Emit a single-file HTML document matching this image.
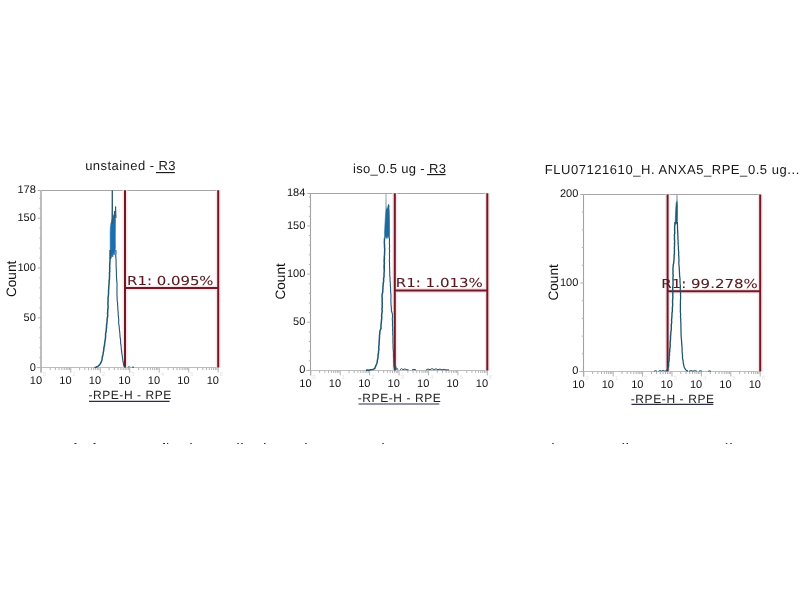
<!DOCTYPE html><html><head><meta charset="utf-8"><title>Flow cytometry</title><style>
html,body{margin:0;padding:0;background:#fff;width:800px;height:600px;overflow:hidden}
svg{display:block}
text{text-rendering:geometricPrecision}
.tl{font-family:"Liberation Sans",Arial,sans-serif;font-size:11px;fill:#111}
.sup{font-family:"Liberation Sans",Arial,sans-serif;font-size:6px;fill:#e2e2e2}
.cnt{font-family:"Liberation Sans",Arial,sans-serif;font-size:13.6px;fill:#111}
.xt{font-family:"Liberation Sans",Arial,sans-serif;font-size:12px;fill:#222}
.ti{font-family:"Liberation Sans",Arial,sans-serif;font-size:13px;fill:#1a1a1a}
.r1{font-family:"DejaVu Sans",Verdana,sans-serif;font-size:12.4px;fill:#561a20;stroke:#561a20;stroke-width:0.08px}
</style></head><body><svg width="800" height="600" viewBox="0 0 800 600">
<path d="M37.8 190.5H218.2" stroke="#a6a6a6" stroke-width="1" fill="none"/>
<path d="M36.8 367.5H218.2" stroke="#bdbdbd" stroke-width="1.1" fill="none"/>
<path d="M41 190.3V372.6" stroke="#bdbdbd" stroke-width="2.0" fill="none"/>
<path d="M37.8 367.6H41.3M39.3 357.64H41.3M39.3 347.68H41.3M39.3 337.72H41.3M39.3 327.76H41.3M37.8 317.8H41.3M39.3 307.84H41.3M39.3 297.88H41.3M39.3 287.91H41.3M39.3 277.95H41.3M37.8 267.99H41.3M39.3 258.03H41.3M39.3 248.07H41.3M39.3 238.11H41.3M39.3 228.15H41.3M37.8 218.19H41.3M39.3 208.23H41.3M39.3 198.27H41.3" stroke="#b2b2b2" stroke-width="1" fill="none"/>
<path d="M41.3 367.6v5M50.18 367.6v2.5M55.37 367.6v2.5M59.05 367.6v2.5M61.91 367.6v2.5M64.24 367.6v2.5M66.22 367.6v2.5M67.93 367.6v2.5M69.43 367.6v2.5M70.78 367.6v5M79.66 367.6v2.5M84.85 367.6v2.5M88.53 367.6v2.5M91.39 367.6v2.5M93.73 367.6v2.5M95.7 367.6v2.5M97.41 367.6v2.5M98.92 367.6v2.5M100.27 367.6v5M109.14 367.6v2.5M114.33 367.6v2.5M118.02 367.6v2.5M120.87 367.6v2.5M123.21 367.6v2.5M125.18 367.6v2.5M126.89 367.6v2.5M128.4 367.6v2.5M129.75 367.6v5M138.63 367.6v2.5M143.82 367.6v2.5M147.5 367.6v2.5M150.36 367.6v2.5M152.69 367.6v2.5M154.67 367.6v2.5M156.38 367.6v2.5M157.88 367.6v2.5M159.23 367.6v5M168.11 367.6v2.5M173.3 367.6v2.5M176.98 367.6v2.5M179.84 367.6v2.5M182.18 367.6v2.5M184.15 367.6v2.5M185.86 367.6v2.5M187.37 367.6v2.5M188.72 367.6v5M197.59 367.6v2.5M202.78 367.6v2.5M206.47 367.6v2.5M209.32 367.6v2.5M211.66 367.6v2.5M213.63 367.6v2.5M215.34 367.6v2.5M216.85 367.6v2.5M218.2 367.6v5" stroke="#b2b2b2" stroke-width="1" fill="none"/>
<text x="35.8" y="193.2" class="tl" text-anchor="end">178</text>
<text x="35.8" y="370.5" class="tl" text-anchor="end">0</text>
<text x="35.8" y="320.7" class="tl" text-anchor="end">50</text>
<text x="35.8" y="270.89" class="tl" text-anchor="end">100</text>
<text x="35.8" y="221.09" class="tl" text-anchor="end">150</text>
<text x="42.1" y="383.8" class="tl" text-anchor="end">10</text>
<text x="42.8" y="376.1" class="sup">0</text>
<text x="71.58" y="383.8" class="tl" text-anchor="end">10</text>
<text x="72.28" y="376.1" class="sup">1</text>
<text x="101.07" y="383.8" class="tl" text-anchor="end">10</text>
<text x="101.77" y="376.1" class="sup">2</text>
<text x="130.55" y="383.8" class="tl" text-anchor="end">10</text>
<text x="131.25" y="376.1" class="sup">3</text>
<text x="160.03" y="383.8" class="tl" text-anchor="end">10</text>
<text x="160.73" y="376.1" class="sup">4</text>
<text x="189.52" y="383.8" class="tl" text-anchor="end">10</text>
<text x="190.22" y="376.1" class="sup">5</text>
<text x="219" y="383.8" class="tl" text-anchor="end">10</text>
<text x="219.7" y="376.1" class="sup">6</text>
<text transform="translate(15.5 278.9) rotate(-90)" class="cnt" text-anchor="middle">Count</text>
<text x="88.4" y="399.3" class="xt" textLength="82.87" lengthAdjust="spacing">-RPE-H - RPE</text>
<text x="85.2" y="169.8" class="ti" textLength="90.36" lengthAdjust="spacing">unstained - R3</text>
<path d="M307.3 193.5H487.3" stroke="#a6a6a6" stroke-width="1" fill="none"/>
<path d="M306.3 370.5H487.3" stroke="#bdbdbd" stroke-width="1.1" fill="none"/>
<path d="M310.5 193.2V375.4" stroke="#a2a2a2" stroke-width="1.1" fill="none"/>
<path d="M307.3 370.4H310.8M308.8 360.77H310.8M308.8 351.14H310.8M308.8 341.51H310.8M308.8 331.88H310.8M307.3 322.25H310.8M308.8 312.62H310.8M308.8 302.99H310.8M308.8 293.36H310.8M308.8 283.73H310.8M307.3 274.1H310.8M308.8 264.47H310.8M308.8 254.83H310.8M308.8 245.2H310.8M308.8 235.57H310.8M307.3 225.94H310.8M308.8 216.31H310.8M308.8 206.68H310.8M308.8 197.05H310.8" stroke="#b2b2b2" stroke-width="1" fill="none"/>
<path d="M310.8 370.4v5M319.66 370.4v2.5M324.84 370.4v2.5M328.51 370.4v2.5M331.36 370.4v2.5M333.69 370.4v2.5M335.66 370.4v2.5M337.37 370.4v2.5M338.87 370.4v2.5M340.22 370.4v5M349.07 370.4v2.5M354.25 370.4v2.5M357.93 370.4v2.5M360.78 370.4v2.5M363.11 370.4v2.5M365.08 370.4v2.5M366.78 370.4v2.5M368.29 370.4v2.5M369.63 370.4v5M378.49 370.4v2.5M383.67 370.4v2.5M387.34 370.4v2.5M390.19 370.4v2.5M392.52 370.4v2.5M394.49 370.4v2.5M396.2 370.4v2.5M397.7 370.4v2.5M399.05 370.4v5M407.91 370.4v2.5M413.09 370.4v2.5M416.76 370.4v2.5M419.61 370.4v2.5M421.94 370.4v2.5M423.91 370.4v2.5M425.62 370.4v2.5M427.12 370.4v2.5M428.47 370.4v5M437.32 370.4v2.5M442.5 370.4v2.5M446.18 370.4v2.5M449.03 370.4v2.5M451.36 370.4v2.5M453.33 370.4v2.5M455.03 370.4v2.5M456.54 370.4v2.5M457.88 370.4v5M466.74 370.4v2.5M471.92 370.4v2.5M475.59 370.4v2.5M478.44 370.4v2.5M480.77 370.4v2.5M482.74 370.4v2.5M484.45 370.4v2.5M485.95 370.4v2.5M487.3 370.4v5" stroke="#b2b2b2" stroke-width="1" fill="none"/>
<text x="305.3" y="196.1" class="tl" text-anchor="end">184</text>
<text x="305.3" y="373.3" class="tl" text-anchor="end">0</text>
<text x="305.3" y="325.15" class="tl" text-anchor="end">50</text>
<text x="305.3" y="277" class="tl" text-anchor="end">100</text>
<text x="305.3" y="228.84" class="tl" text-anchor="end">150</text>
<text x="311.6" y="386.6" class="tl" text-anchor="end">10</text>
<text x="312.3" y="378.9" class="sup">0</text>
<text x="341.02" y="386.6" class="tl" text-anchor="end">10</text>
<text x="341.72" y="378.9" class="sup">1</text>
<text x="370.43" y="386.6" class="tl" text-anchor="end">10</text>
<text x="371.13" y="378.9" class="sup">2</text>
<text x="399.85" y="386.6" class="tl" text-anchor="end">10</text>
<text x="400.55" y="378.9" class="sup">3</text>
<text x="429.27" y="386.6" class="tl" text-anchor="end">10</text>
<text x="429.97" y="378.9" class="sup">4</text>
<text x="458.68" y="386.6" class="tl" text-anchor="end">10</text>
<text x="459.38" y="378.9" class="sup">5</text>
<text x="488.1" y="386.6" class="tl" text-anchor="end">10</text>
<text x="488.8" y="378.9" class="sup">6</text>
<text transform="translate(285.2 281.4) rotate(-90)" class="cnt" text-anchor="middle">Count</text>
<text x="357.7" y="402.3" class="xt" textLength="83.17" lengthAdjust="spacing">-RPE-H - RPE</text>
<text x="353.0" y="173.0" class="ti" textLength="92.87" lengthAdjust="spacing">iso_0.5 ug - R3</text>
<path d="M580.3 194.5H760.2" stroke="#a6a6a6" stroke-width="1" fill="none"/>
<path d="M579.3 371.5H760.2" stroke="#bdbdbd" stroke-width="1.1" fill="none"/>
<path d="M583.5 194.4V376.5" stroke="#a2a2a2" stroke-width="1.1" fill="none"/>
<path d="M580.3 371.5H583.8M581.8 353.79H583.8M581.8 336.08H583.8M581.8 318.37H583.8M581.8 300.66H583.8M580.3 282.95H583.8M581.8 265.24H583.8M581.8 247.53H583.8M581.8 229.82H583.8M581.8 212.11H583.8M580.3 194.4H583.8" stroke="#b2b2b2" stroke-width="1" fill="none"/>
<path d="M583.8 371.5v5M592.65 371.5v2.5M597.83 371.5v2.5M601.5 371.5v2.5M604.35 371.5v2.5M606.68 371.5v2.5M608.65 371.5v2.5M610.35 371.5v2.5M611.85 371.5v2.5M613.2 371.5v5M622.05 371.5v2.5M627.23 371.5v2.5M630.9 371.5v2.5M633.75 371.5v2.5M636.08 371.5v2.5M638.05 371.5v2.5M639.75 371.5v2.5M641.25 371.5v2.5M642.6 371.5v5M651.45 371.5v2.5M656.63 371.5v2.5M660.3 371.5v2.5M663.15 371.5v2.5M665.48 371.5v2.5M667.45 371.5v2.5M669.15 371.5v2.5M670.65 371.5v2.5M672 371.5v5M680.85 371.5v2.5M686.03 371.5v2.5M689.7 371.5v2.5M692.55 371.5v2.5M694.88 371.5v2.5M696.85 371.5v2.5M698.55 371.5v2.5M700.05 371.5v2.5M701.4 371.5v5M710.25 371.5v2.5M715.43 371.5v2.5M719.1 371.5v2.5M721.95 371.5v2.5M724.28 371.5v2.5M726.25 371.5v2.5M727.95 371.5v2.5M729.45 371.5v2.5M730.8 371.5v5M739.65 371.5v2.5M744.83 371.5v2.5M748.5 371.5v2.5M751.35 371.5v2.5M753.68 371.5v2.5M755.65 371.5v2.5M757.35 371.5v2.5M758.85 371.5v2.5M760.2 371.5v5" stroke="#b2b2b2" stroke-width="1" fill="none"/>
<text x="578.3" y="197.3" class="tl" text-anchor="end">200</text>
<text x="578.3" y="374.4" class="tl" text-anchor="end">0</text>
<text x="578.3" y="285.85" class="tl" text-anchor="end">100</text>
<text x="584.6" y="387.7" class="tl" text-anchor="end">10</text>
<text x="585.3" y="380" class="sup">0</text>
<text x="614" y="387.7" class="tl" text-anchor="end">10</text>
<text x="614.7" y="380" class="sup">1</text>
<text x="643.4" y="387.7" class="tl" text-anchor="end">10</text>
<text x="644.1" y="380" class="sup">2</text>
<text x="672.8" y="387.7" class="tl" text-anchor="end">10</text>
<text x="673.5" y="380" class="sup">3</text>
<text x="702.2" y="387.7" class="tl" text-anchor="end">10</text>
<text x="702.9" y="380" class="sup">4</text>
<text x="731.6" y="387.7" class="tl" text-anchor="end">10</text>
<text x="732.3" y="380" class="sup">5</text>
<text x="761" y="387.7" class="tl" text-anchor="end">10</text>
<text x="761.7" y="380" class="sup">6</text>
<text transform="translate(558.4 282.4) rotate(-90)" class="cnt" text-anchor="middle">Count</text>
<text x="630.7" y="402.7" class="xt" textLength="83.37" lengthAdjust="spacing">-RPE-H - RPE</text>
<text x="544.7" y="173.8" class="ti" textLength="254.63" lengthAdjust="spacing">FLU07121610_H. ANXA5_RPE_0.5 ug...</text>
<path d="M125 190.3V367.6M218.2 190.3V367.6M125 288H218.2" stroke="#f6e4e7" stroke-width="5" fill="none"/>
<path d="M125 190.3V367.6M218.2 190.3V367.6M125 288H218.2" stroke="#701826" stroke-width="2" fill="none"/>
<text x="127.1" y="284.7" class="r1" textLength="86.44" lengthAdjust="spacingAndGlyphs">R1: 0.095%</text>
<path d="M156 172.6H174.9" stroke="#111" stroke-width="1.1" fill="none"/>
<path d="M89 401.3H169.6" stroke="#2b2e44" stroke-width="1.2" fill="none"/>
<path d="M394.8 193.2V370.4M487.3 193.2V370.4M394.8 290.5H487.3" stroke="#f6e4e7" stroke-width="5" fill="none"/>
<path d="M394.8 193.2V370.4M487.3 193.2V370.4M394.8 290.5H487.3" stroke="#701826" stroke-width="2" fill="none"/>
<text x="395.79" y="287.2" class="r1" textLength="87.05" lengthAdjust="spacingAndGlyphs">R1: 1.013%</text>
<path d="M427 174.6H445.6" stroke="#111" stroke-width="1.1" fill="none"/>
<path d="M358.5 404H439.3" stroke="#2b2e44" stroke-width="1.2" fill="none"/>
<path d="M667.6 194.4V371.5M760.2 194.4V371.5M667.6 291.3H760.2" stroke="#f6e4e7" stroke-width="5" fill="none"/>
<path d="M667.6 194.4V371.5M760.2 194.4V371.5M667.6 291.3H760.2" stroke="#701826" stroke-width="2" fill="none"/>
<text x="661.39" y="288.0" class="r1" textLength="96.31" lengthAdjust="spacingAndGlyphs">R1: 99.278%</text>
<path d="M631.5 404.3H713.3" stroke="#2b2e44" stroke-width="1.2" fill="none"/>
<path d="M110.3 258 L110.2 245 L110.2 232 L110.4 227 L111 223 L111.8 221 L112.3 219 L113.1 216.5 L114 214.5 L114.8 214 L115.3 215 L115.5 220 L115.4 230 L115.3 240 L115.4 248 L114.8 252 L114.2 255 L113.5 253 L112.8 257 L112 255 L111.3 258 L110.7 259Z" fill="#1c6fae" stroke="#1c6fae" stroke-width="0.6"/>
<path d="M94.5 367.5 L96 367.2 L97 366.8 L98.5 365.8 L100 364.2 L101 362.5 L102 360 L102.14 358 L102.6 356 L103.05 354.4 L103.2 352.8 L103.62 350.9 L103.8 349 L103.99 347.3 L104.4 345.6 L104.6 344.07 L104.78 342.53 L105 341 L105.27 339.33 L105.53 337.67 L105.6 336 L105.57 334.5 L105.69 333 L106.2 331.5 L106.2 330 L106.32 328.5 L106.62 327 L106.43 325.5 L106.8 324 L106.9 322.5 L107.15 321 L107.06 319.5 L107.3 318 L107.62 316.5 L107.73 315 L107.47 313.5 L107.8 312 L107.64 310.5 L107.92 309 L108.14 307.5 L108 306 L107.97 304.5 L107.93 303 L108.04 301.5 L108.1 300 L107.99 298.5 L108.18 297 L108.37 295.5 L108.5 294 L108.57 292.5 L108.53 291 L108.61 289.5 L108.8 288 L108.78 286.5 L108.98 285 L109.01 283.5 L109.2 282 L109.06 280.5 L109.5 279 L109.45 277.5 L109.5 276 L109.59 274.5 L109.41 273 L109.79 271.5 L109.6 270 L109.83 268.33 L109.57 266.67 L109.8 265 L109.78 263.25 L110 261.5 L110.04 259.75 L110 258 L110.21 256.4 L110.01 254.8 L110.21 253.2 L110.15 251.6 L110.1 250" stroke="#1f5670" stroke-width="1.5" fill="none" stroke-linejoin="round"/>
<path d="M115.8 250 L115.98 251.6 L116 253.2 L115.7 254.8 L115.73 256.4 L115.9 258 L116.07 259.75 L116.08 261.5 L116.11 263.25 L116.1 265 L116.1 266.67 L116.27 268.33 L116.3 270 L116.39 271.5 L116.43 273 L116.33 274.5 L116.5 276 L116.55 277.5 L116.61 279 L116.81 280.5 L116.8 282 L117.03 283.5 L117.06 285 L116.97 286.5 L117 288 L117.01 289.5 L116.97 291 L116.91 292.5 L117.1 294 L116.95 295.5 L117.14 297 L117.11 298.5 L117.2 300 L117.28 301.5 L117.59 303 L117.58 304.5 L117.7 306 L117.85 307.5 L117.86 309 L117.9 310.5 L118.2 312 L118.21 313.5 L118.22 315 L118.43 316.5 L118.5 318 L118.75 319.5 L118.71 321 L118.61 322.5 L118.8 324 L119.09 325.5 L119.21 327 L119.33 328.5 L119.4 330 L119.7 331.5 L119.79 333 L119.95 334.5 L120 336 L120.1 337.5 L120.47 339 L120.62 340.5 L120.6 342 L120.63 343.5 L120.99 345 L121.13 346.5 L121.2 348 L121.39 349.67 L121.61 351.33 L121.8 353 L122 354.53 L122.35 356.07 L122.4 357.6 L122.7 359.55 L123 361.5 L123.42 363.15 L123.6 364.8 L124.2 366.6 L125.2 367.4" stroke="#1f5670" stroke-width="1.1" fill="none" stroke-linejoin="round"/>
<path d="M128 367.5 L129 366.4 L130 367.4 M132 367.5 L133 366.8 L134 367.5" stroke="#1f5670" stroke-width="1" fill="none"/>
<path d="M111.9 224 L112.3 190.5 L112.7 224" stroke="#2d5a72" stroke-width="1.0" fill="none"/>
<path d="M115.2 216 L115.6 206.6 L116 218" stroke="#2d5a72" stroke-width="1.0" fill="none"/>
<path d="M114.2 218 L114.6 211 L115 217" stroke="#2d5a72" stroke-width="1.0" fill="none"/>
<path d="M384.6 238 L384.6 232 L384.9 226 L385.2 220 L385.6 214 L386 208.5 L386.6 207.5 L387.4 208.5 L388 206.5 L388.5 204.8 L389 207 L389.3 212 L389.5 222 L389.6 232 L389.5 238 L388.8 236 L388 238.5 L387.2 236 L386.3 238.5 L385.4 237Z" fill="#1f6a9c" stroke="#1f6a9c" stroke-width="0.6"/>
<path d="M383.8 257 L384.9 257 L384.9 270 L383.8 270Z" fill="#1f5670"/>
<path d="M366 370.2 L367.5 369.9 L369 370.2 L370.5 369.7 L372.3 369.5 L373.5 369.2 L374.8 368.5 L375.28 366.95 L376 365.4 L376.85 363.55 L377.3 361.7 L377.37 360.13 L377.86 358.57 L378 357 L378.07 355 L378.5 353 L378.49 351.33 L378.92 349.67 L378.8 348 L378.77 346.4 L379.06 344.8 L379.1 343.2 L379.18 341.65 L379.28 340.1 L379.4 338.55 L379.5 337 L379.46 335.33 L379.85 333.67 L379.8 332 L380.22 330.2 L381 328.4 L380.98 326.72 L380.99 325.04 L381.2 323.36 L381.36 321.68 L381.5 320 L381.78 318.46 L381.65 316.92 L381.63 315.38 L381.79 313.84 L382 312.3 L382.27 310.73 L381.91 309.15 L382.2 307.57 L382.2 306 L382.15 304.5 L382.27 303 L382.13 301.5 L382.2 300 L382.18 298 L382 296 L382.2 294.5 L382.47 293 L382.78 291.5 L382.8 290 L382.97 288.33 L382.91 286.67 L383.2 285 L383.14 283.33 L383.66 281.67 L383.6 280 L383.6 278.33 L384.06 276.67 L384 275 L384.08 273.25 L384.2 271.5 L384.32 269.75 L384.2 268 L384.13 266.5 L384.19 265 L384.44 263.5 L384.3 262 L384.19 260.25 L384.52 258.5 L384.27 256.75 L384.5 255 L384.58 253.33 L384.59 251.67 L384.7 250 L384.65 248.33 L384.5 246.67 L384.5 245 L384.37 243.25 L384.35 241.5 L384.51 239.75 L384.5 238" stroke="#1f5670" stroke-width="1.5" fill="none" stroke-linejoin="round"/>
<path d="M389.5 238 L389.49 239.75 L389.45 241.5 L389.37 243.25 L389.5 245 L389.63 246.67 L389.32 248.33 L389.5 250 L389.64 251.67 L389.35 253.33 L389.5 255 L389.52 256.67 L389.54 258.33 L389.33 260 L389.46 261.67 L389.57 263.33 L389.5 265 L389.56 266.75 L389.73 268.5 L389.6 270.25 L389.8 272 L389.75 273.6 L389.74 275.2 L389.92 276.8 L390.11 278.4 L390 280 L390.16 281.75 L390.35 283.5 L390.33 285.25 L390.5 287 L390.69 288.75 L390.56 290.5 L390.72 292.25 L390.9 294 L390.96 295.5 L390.98 297 L390.87 298.5 L390.9 300 L390.84 301.57 L390.99 303.14 L391.05 304.71 L391.16 306.29 L391.44 307.86 L391.31 309.43 L391.5 311 L392.3 313.6 L392.48 315.28 L392.52 316.96 L392.26 318.64 L392.42 320.32 L392.5 322 L392.53 323.5 L392.4 325 L392.57 326.5 L392.78 328 L392.53 329.5 L392.7 331 L392.78 332.5 L392.66 334 L392.88 335.5 L393.04 337 L392.84 338.5 L393 340 L392.87 341.57 L392.95 343.13 L393.16 344.7 L393.03 346.27 L393.1 347.83 L393.3 349.4 L393.36 351.12 L393.57 352.84 L393.45 354.56 L393.5 356.28 L393.6 358 L393.73 359.74 L393.61 361.48 L393.87 363.22 L393.8 364.96 L394 366.7 L394.6 369.4" stroke="#1f5670" stroke-width="1.1" fill="none" stroke-linejoin="round"/>
<path d="M395.2 369.5 L395.7 366.2 L396.3 369.5 L397.2 368.4 L398 369.8 M400 369.8 L401.5 368.6 L403 369.6 L405 368.9 L407 369.8 L408.5 369.6 M412 369.9 L414 369.3 L416 369.9 M426 370 L428 369 L430 369.7 L432 368.6 L434 369.6 L436 368.8 L438 369.7 L440 369.1 L442 369.8 L444 369.3 L446 369.9 L449 369.8" stroke="#1f5670" stroke-width="1" fill="none"/>
<path d="M388.2 207 L388.6 204.5 L389 207" stroke="#1f6a9c" stroke-width="1" fill="none"/>
<path d="M385.8 209 L386 193.4 L386.2 209" stroke="#9fb0ba" stroke-width="1.1" fill="none"/>
<path d="M675.2 222 L675.5 214 L675.8 208 L676.2 203 L676.7 201 L677.2 201 L677.5 205 L677.5 214 L677.4 221 L676.8 224 L676.2 222.5 L675.6 224.5Z" fill="#1d5d70" stroke="#1d5d70" stroke-width="0.6"/>
<path d="M666.2 371 L667.6 369.2 L668.3 366.5 L668.67 365 L668.42 363.5 L668.8 362 L669.1 360 L669.2 358 L669.15 356.4 L669.61 354.8 L669.29 353.2 L669.77 351.6 L669.7 350 L669.9 348.4 L670.1 346.8 L670.28 345.2 L670.07 343.6 L670.3 342 L670.33 340.4 L670.59 338.8 L670.5 337.2 L670.6 335.6 L670.8 334 L670.78 332.4 L671.16 330.8 L671.26 329.2 L671.33 327.6 L671.3 326 L671.28 324.4 L671.69 322.8 L671.61 321.2 L671.58 319.6 L671.8 318 L671.9 316.4 L672 314.8 L671.97 313.2 L672.31 311.6 L672.4 310 L672.37 308.33 L672.5 306.67 L672.69 305 L672.6 303.33 L672.52 301.67 L672.6 300 L672.79 298.33 L672.88 296.67 L672.7 295 L672.93 293.33 L672.55 291.67 L672.8 290 L672.68 288.33 L672.72 286.67 L673.09 285 L673.02 283.33 L673.06 281.67 L673 280 L672.93 278.4 L673.04 276.8 L673.23 275.2 L672.9 273.6 L673.1 272 L672.96 270.25 L672.95 268.5 L673.16 266.75 L673.2 265 L673.62 263.33 L673.76 261.67 L674 260 L674.04 258.33 L674.17 256.67 L674.11 255 L674.53 253.33 L674.35 251.67 L674.5 250 L674.38 248.33 L674.42 246.67 L674.64 245 L674.42 243.33 L674.68 241.67 L674.5 240 L674.44 238.33 L674.51 236.67 L674.36 235 L674.75 233.33 L674.71 231.67 L674.6 230 L674.67 228.4 L674.59 226.8 L674.84 225.2 L674.87 223.6 L675 222" stroke="#1d5468" stroke-width="1.4" fill="none" stroke-linejoin="round"/>
<path d="M677.4 222 L677.39 223.6 L677.47 225.2 L677.49 226.8 L677.54 228.4 L677.6 230 L677.65 231.67 L677.82 233.33 L677.76 235 L677.98 236.67 L677.84 238.33 L678.1 240 L678.1 241.67 L678.17 243.33 L678.17 245 L678.45 246.67 L678.36 248.33 L678.5 250 L678.66 251.6 L678.78 253.2 L678.59 254.8 L678.88 256.4 L678.8 258 L678.96 259.75 L678.96 261.5 L678.78 263.25 L679 265 L679.11 266.75 L679.3 268.5 L679.3 270.25 L679.5 272 L679.5 273.6 L679.63 275.2 L679.71 276.8 L680 278.4 L680 280 L680.01 281.6 L680.09 283.2 L680.23 284.8 L680.4 286.4 L680.3 288 L680.28 289.75 L680.24 291.5 L680.62 293.25 L680.5 295 L680.62 296.6 L680.6 298.2 L680.51 299.8 L680.4 301.4 L680.5 303 L680.35 304.75 L680.38 306.5 L680.41 308.25 L680.4 310 L680.29 311.67 L680.57 313.33 L680.63 315 L680.42 316.67 L680.77 318.33 L680.7 320 L680.74 321.61 L680.94 323.23 L680.82 324.84 L680.98 326.46 L680.9 328.07 L681 329.69 L681 331.3 L681.1 333.04 L681.03 334.78 L681.17 336.52 L681.3 338.26 L681.5 340 L681.59 341.82 L681.7 343.65 L681.89 345.48 L682 347.3 L682.13 348.83 L682.11 350.36 L682.15 351.89 L682.29 353.41 L682.52 354.94 L682.53 356.47 L682.5 358 L682.83 359.6 L683.16 361.2 L683.23 362.8 L683.6 364.4 L683.96 366.2 L684.6 368 L685.6 369.6 L686.8 370.7 L688 371.1" stroke="#1d5468" stroke-width="1.25" fill="none" stroke-linejoin="round"/>
<path d="M654 371.3 L655.5 370.6 L657 371.2 M658.5 371.2 L660 370.4 L661.5 371 L663 370.2 L664.5 370.9 L666.2 371 M689 371.2 L691 370.5 L693 371.1 L695 370.6 L697 371.2 M699 371.2 L700.5 370.6 L702 371.2 M708 371.3 L709.5 370.8 L711 371.3" stroke="#1d5468" stroke-width="0.9" fill="none"/>
<path d="M676.8 202 L677 194.6 L677.2 202" stroke="#8d9ea8" stroke-width="1.1" fill="none"/>
<path d="M74.5 443h2v1.1h-2zM93.5 443h2v1.1h-2zM163 443h2v1.1h-2zM167 443h1.2v1.1h-1.2zM190.3 443h1.5v1.1h-1.5zM237.3 443h1.5v1.1h-1.5zM241.3 443h1.5v1.1h-1.5zM264 443h1.5v1.1h-1.5zM305.2 443h1.5v1.1h-1.5zM382.3 443h1.5v1.1h-1.5zM552.2 443h1.5v1.1h-1.5zM622.6 443h1.5v1.1h-1.5zM626.5 443h1.5v1.1h-1.5zM725.8 443h1.5v1.1h-1.5zM730.3 443h1.5v1.1h-1.5z" fill="#333"/>
</svg></body></html>
